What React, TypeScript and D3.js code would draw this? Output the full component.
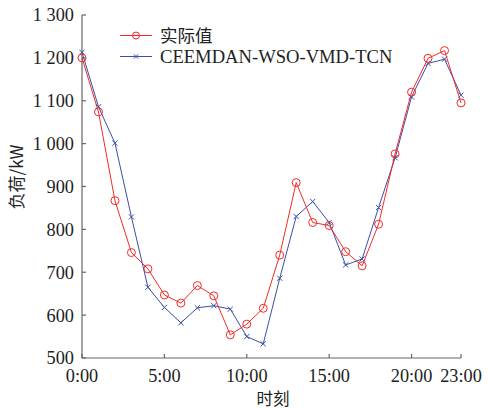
import React from "react";
import * as d3 from "d3";

const hours = d3.range(0, 24);
const actual = [1200, 1074, 867, 746, 708, 647, 628, 669, 645, 554, 579, 616, 740, 909, 816, 809, 748, 715, 812, 976, 1120, 1199, 1217, 1095];
const predicted = [1213, 1086, 1001, 829, 665, 618, 582, 617, 622, 614, 550, 533, 686, 830, 865, 816, 717, 731, 851, 967, 1109, 1187, 1197, 1113];
const xTicks = [0, 5, 10, 15, 20, 23];
const yTicks = [500, 600, 700, 800, 900, 1000, 1100, 1200, 1300];
const seriesNames = ["实际值", "CEEMDAN-WSO-VMD-TCN"];

const W = 490, H = 409;
const left = 82, right = 461, top = 15, bottom = 358;
const RED = "#f22a2a";
const BLUE = "#3b4fa6";
const FONT = "'Liberation Serif', 'Times New Roman', serif";
const CJK = "'Noto Sans CJK SC', sans-serif";

const fmtY = (v: number) => (v >= 1000 ? `${Math.floor(v / 1000)} ${String(v % 1000).padStart(3, "0")}` : String(v));

export default function App() {
  const x = d3.scaleLinear().domain([0, 23]).range([left, right]);
  const y = d3.scaleLinear().domain([500, 1300]).range([bottom, top]);
  const line = d3.line<number>().x((_, i) => x(hours[i])).y((d) => y(d));
  const cross = (cx: number, cy: number, s: number, key: string) => (
    <path key={key} d={`M${cx - s},${cy - s}L${cx + s},${cy + s}M${cx - s},${cy + s}L${cx + s},${cy - s}`} stroke={BLUE} strokeWidth={1} />
  );
  return (
    <svg width={W} height={H} style={{ position: "absolute", left: 0, top: 0, background: "#fff" }}>
      {/* axes */}
      <g stroke="#666" strokeWidth={1.2} fill="none">
        <line x1={left} y1={top} x2={left} y2={bottom} />
        <line x1={left} y1={bottom} x2={right} y2={bottom} />
        {yTicks.map((t) => (
          <line key={"yt" + t} x1={left} x2={left + 4} y1={y(t)} y2={y(t)} />
        ))}
        {xTicks.map((t) => (
          <line key={"xt" + t} x1={x(t)} x2={x(t)} y1={bottom} y2={bottom - 4} />
        ))}
      </g>
      <g fontFamily={FONT} fontSize={18.3} fill="#222">
        {yTicks.map((t) => (
          <text key={"yl" + t} x={left - 8} y={y(t)} dy="0.35em" textAnchor="end">{fmtY(t)}</text>
        ))}
        {xTicks.map((t) => (
          <text key={"xl" + t} x={x(t)} y={381.5} textAnchor="middle">{`${t}:00`}</text>
        ))}
      </g>
      <text x={273} y={405} textAnchor="middle" fontFamily={CJK} fontSize={16.5} fill="#222">时刻</text>
      <text transform={`translate(23,${177}) rotate(-90)`} textAnchor="middle" fontFamily={CJK} fontSize={17} fill="#222">负荷/kW</text>
      {/* series */}
      <path d={line(predicted) || ""} fill="none" stroke={BLUE} strokeWidth={1} />
      <path d={line(actual) || ""} fill="none" stroke={RED} strokeWidth={1} />
      {predicted.map((v, i) => cross(x(hours[i]), y(v), 2.6, "p" + i))}
      {actual.map((v, i) => (
        <circle key={"a" + i} cx={x(hours[i])} cy={y(v)} r={4} fill="none" stroke={RED} strokeWidth={1} />
      ))}
      {/* legend */}
      <line x1={120} x2={152} y1={35.5} y2={35.5} stroke={RED} strokeWidth={1} />
      <circle cx={136} cy={35.5} r={3.5} fill="none" stroke={RED} strokeWidth={1} />
      <text x={160} y={35.5} dy="0.35em" fontFamily={CJK} fontSize={17.5} fill="#222">{seriesNames[0]}</text>
      <line x1={120} x2={152} y1={56.5} y2={56.5} stroke={BLUE} strokeWidth={1} />
      {cross(136, 56.5, 2.2, "leg")}
      <text x={160} y={56.5} dy="0.35em" fontFamily={FONT} fontSize={18.6} fill="#222">{seriesNames[1]}</text>
    </svg>
  );
}
